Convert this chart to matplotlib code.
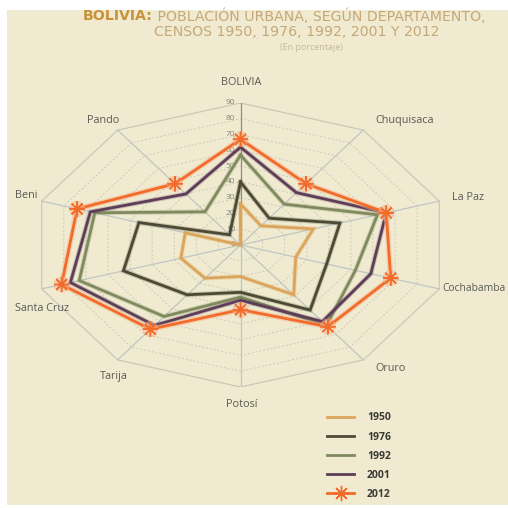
import numpy as np
import matplotlib
matplotlib.use("Agg")
import matplotlib.pyplot as plt
from matplotlib import patheffects as pe
from matplotlib.lines import Line2D

plt.rcParams['font.family'] = ['Open Sans', 'DejaVu Sans']

# Urban population share (%) by department and census year
categories = ['BOLIVIA', 'Chuquisaca', 'La Paz', 'Cochabamba', 'Oruro',
              'Potosí', 'Tarija', 'Santa Cruz', 'Beni', 'Pando']
years = ['1950', '1976', '1992', '2001', '2012']
v1950 = [26, 15, 33, 25, 39, 20, 26, 27, 25, 0]
v1976 = [40, 21, 45, 39, 51, 30, 39, 53, 46, 8]
v1992 = [57, 32, 62, 52, 63, 33, 56, 73, 66, 26]
v2001 = [62, 41, 66, 59, 60, 35, 63, 77, 68, 40]
v2012 = [67, 48, 66, 68, 64, 41, 66, 81, 74, 48]
ring_ticks = [0, 10, 20, 30, 40, 50, 60, 70, 80, 90]

series = [v1950, v1976, v1992, v2001, v2012]
colors = ['#dca55c', '#4c4a34', '#7f8a5e', '#5e3d58', '#f26b2a']

BG = '#f0ebd0'
fig = plt.figure(figsize=(5.08, 5.08), dpi=100, facecolor='white')
fig.patches.append(plt.Rectangle((7 / 508, 3 / 508), 501 / 508, 495 / 508,
                                 transform=fig.transFigure, facecolor=BG,
                                 edgecolor='none', zorder=-10))

ax = fig.add_axes([31.5 / 508, 121 / 508, 418 / 508, 284 / 508])
ax.set_xlim(-90, 90)
ax.set_ylim(-90, 90)
ax.axis('off')

n = len(categories)
theta = np.arange(n) * 2 * np.pi / n
sx, sy = np.sin(theta), np.cos(theta)

# polygonal rings
for r in ring_ticks[1:]:
    xs = np.append(r * sx, r * sx[0])
    ys = np.append(r * sy, r * sy[0])
    if r == ring_ticks[-1]:
        ax.plot(xs, ys, color='#cac8b8', lw=0.9, zorder=1)
    else:
        ax.plot(xs, ys, color='#cbc9ba', lw=0.7, ls=(0, (2, 2)), zorder=1)

# spokes
for i in range(n):
    c = '#8e8e88' if i == 0 else '#bfc6c2'
    ax.plot([0, 90 * sx[i]], [0, 90 * sy[i]], color=c, lw=0.9, zorder=1)

# scale labels on the first spoke
for t in ring_ticks:
    ax.text(-2.2, t, str(t), ha='right', va='center', fontsize=6,
            color='#85857c', zorder=2)

# series polygons
for vals, col, yr in zip(series, colors, years):
    v = np.array(vals, dtype=float)
    xs = np.append(v * sx, v[0] * sx[0])
    ys = np.append(v * sy, v[0] * sy[0])
    if yr == '2012':
        ax.plot(xs, ys, color=col, lw=2.0, zorder=6, solid_joinstyle='miter',
                marker=(8, 2, 0), markersize=11, markeredgewidth=1.0,
                markevery=list(range(n)),
                path_effects=[pe.Stroke(linewidth=4.0, foreground='#f6b48c', alpha=0.5),
                              pe.Normal()])
    else:
        ax.plot(xs, ys, color=col, lw=2.0, zorder=5, solid_joinstyle='miter',
                path_effects=[pe.Stroke(linewidth=3.5, foreground=col, alpha=0.25),
                              pe.Normal()])

# category labels around the chart
label_style = {
    'BOLIVIA':    (0.5, 103, 'center', 'center', 7.8),
    'Chuquisaca': (58, 79, 'left', 'center', 7.8),
    'La Paz':     (91, 30, 'left', 'center', 7.8),
    'Cochabamba': (86.8, -27.5, 'left', 'center', 7.4),
    'Oruro':      (58, -78.5, 'left', 'center', 7.8),
    'Potosí':     (0.5, -101, 'center', 'center', 7.8),
    'Tarija':     (-48.5, -83.5, 'right', 'center', 7.8),
    'Santa Cruz': (-85.5, -40.5, 'center', 'center', 7.8),
    'Beni':       (-87.5, 31.5, 'right', 'center', 7.8),
    'Pando':      (-52, 79, 'right', 'center', 7.8),
}
for cat in categories:
    x, y, ha, va, fs = label_style[cat]
    ax.text(x, y, cat, ha=ha, va=va, fontsize=fs, color='#5a5a55', clip_on=False)

# title block
title_font = ['DejaVu Sans']
t1 = fig.text(83 / 508, 1 - 16 / 508, 'BOLIVIA:', ha='left', va='center',
              fontsize=10.2, fontweight='bold', color='#c9923a', family=title_font)
ax.annotate(' POBLACIÓN URBANA, SEGÚN DEPARTAMENTO,', xy=(1, 0.5), xycoords=t1,
            ha='left', va='center', fontsize=10.2, color='#c6a878',
            family=title_font, annotation_clip=False)
fig.text(297 / 508, 1 - 32 / 508, 'CENSOS 1950, 1976, 1992, 2001 Y 2012',
         ha='center', va='center', fontsize=10.2, color='#c6a878', family=title_font)
fig.text(311 / 508, 1 - 47 / 508, '(En porcentaje)', ha='center', va='center',
         fontsize=6.5, color='#c8b898')

# legend
handles = []
for col, yr in zip(colors, years):
    if yr == '2012':
        handles.append(Line2D([], [], color=col, lw=2.0, marker=(8, 2, 0),
                              markersize=11, markeredgewidth=1.0))
    else:
        handles.append(Line2D([], [], color=col, lw=2.0))
leg = fig.legend(handles, years, loc='upper left',
                 bbox_to_anchor=(318 / 508, 1 - 403 / 508),
                 frameon=False, handlelength=2.6, handletextpad=1.2,
                 labelspacing=0.78, prop={'weight': 'bold', 'size': 7.5})
for txt in leg.get_texts():
    txt.set_color('#3a3a35')

fig.savefig('out.png', dpi=100, facecolor='white')
